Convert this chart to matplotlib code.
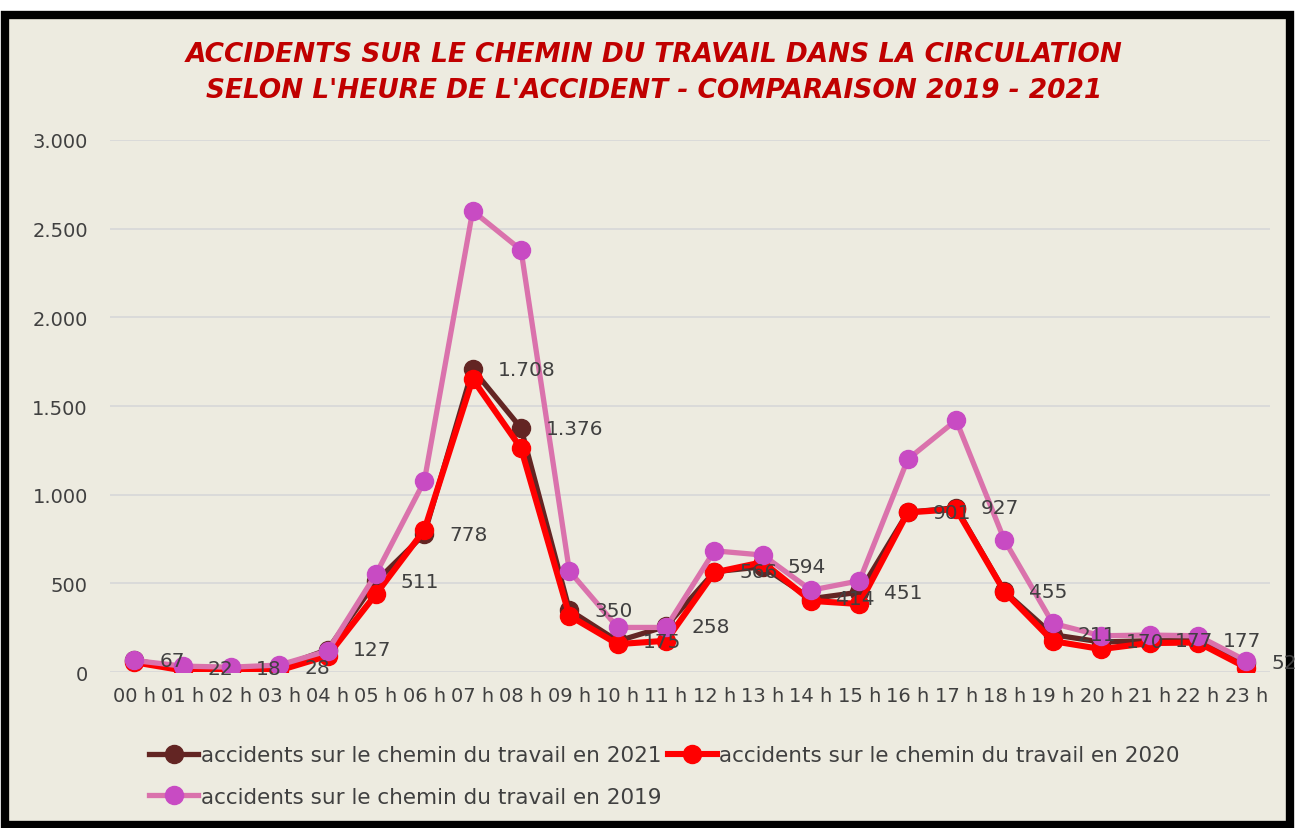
import matplotlib
matplotlib.use("Agg")
from matplotlib import pyplot as plt
from matplotlib.patches import Rectangle
from matplotlib.ticker import FuncFormatter
import numpy as np

hours = ["%02d h" % h for h in range(24)]
acc_2021 = [67, 22, 18, 28, 127, 511, 778, 1708, 1376, 350, 175, 258,
            566, 594, 414, 451, 901, 927, 455, 211, 170, 177, 177, 52]
acc_2020 = [56, 10, 5, 10, 92, 440, 801, 1652, 1262, 318, 158, 177,
            562, 620, 402, 384, 900, 919, 453, 175, 130, 164, 167, 26]
acc_2019 = [66, 34, 28, 40, 120, 553, 1077, 2600, 2380, 570, 252, 252,
            684, 660, 462, 515, 1200, 1420, 743, 275, 205, 209, 205, 64]

bg = "#EDEBE0"
txt = "#404040"

fig = plt.figure(figsize=(12.95, 8.29), dpi=100)
fig.patch.set_facecolor("white")
fig.patches.append(Rectangle((0.004, 0.004), 0.992, 0.977, transform=fig.transFigure,
                             facecolor=bg, edgecolor="black", linewidth=6, zorder=-10))

ax = fig.add_axes([0.085, 0.188, 0.896, 0.642])
ax.set_facecolor(bg)
x = np.arange(len(hours))

l21, = ax.plot(x, acc_2021, color="#632523", lw=3.8, marker="o", ms=13,
               markerfacecolor="#632523", markeredgecolor="#632523", zorder=3,
               label="accidents sur le chemin du travail en 2021")
l20, = ax.plot(x, acc_2020, color="#FF0000", lw=4.4, marker="o", ms=13,
               markerfacecolor="#FF0000", markeredgecolor="#FF0000", zorder=4,
               label="accidents sur le chemin du travail en 2020")
l19, = ax.plot(x, acc_2019, color="#DA72AC", lw=3.8, marker="o", ms=13,
               markerfacecolor="#C84BC3", markeredgecolor="#C84BC3", zorder=5,
               label="accidents sur le chemin du travail en 2019")

fmt = lambda v: "{:,}".format(int(v)).replace(",", ".")
for xi, v in zip(x, acc_2021):
    ax.annotate(fmt(v), (xi, v), xytext=(18, 0), textcoords="offset points",
                ha="left", va="center", fontsize=14.5, color=txt, zorder=6)

ax.set_xlim(-0.5, 23.5)
ax.set_ylim(0, 3000)
ax.set_yticks(np.arange(0, 3001, 500))
ax.yaxis.set_major_formatter(FuncFormatter(lambda v, p: fmt(v)))
ax.set_xticks(x)
ax.set_xticklabels(hours)
ax.tick_params(axis="both", length=0, labelsize=14, colors=txt)
ax.tick_params(axis="y", pad=16)
ax.tick_params(axis="x", pad=10)
ax.grid(axis="y", color="#D9D9D9", lw=1.3)
ax.set_axisbelow(True)
for s in ax.spines.values():
    s.set_visible(False)

fig.text(0.505, 0.912, "ACCIDENTS SUR LE CHEMIN DU TRAVAIL DANS LA CIRCULATION\n"
         "SELON L'HEURE DE L'ACCIDENT - COMPARAISON 2019 - 2021",
         ha="center", va="center", fontsize=19, fontweight="bold", style="italic",
         color="#C00000", linespacing=1.5)

leg = fig.legend(handles=[l21, l19, l20], loc="lower left", bbox_to_anchor=(0.1, 0.002),
                 ncol=2, frameon=False, fontsize=15.5, handlelength=2.3,
                 handletextpad=0.1, columnspacing=0.3, labelspacing=1.0)
for t in leg.get_texts():
    t.set_color(txt)

fig.savefig("out.png", dpi=100, facecolor=fig.get_facecolor())
